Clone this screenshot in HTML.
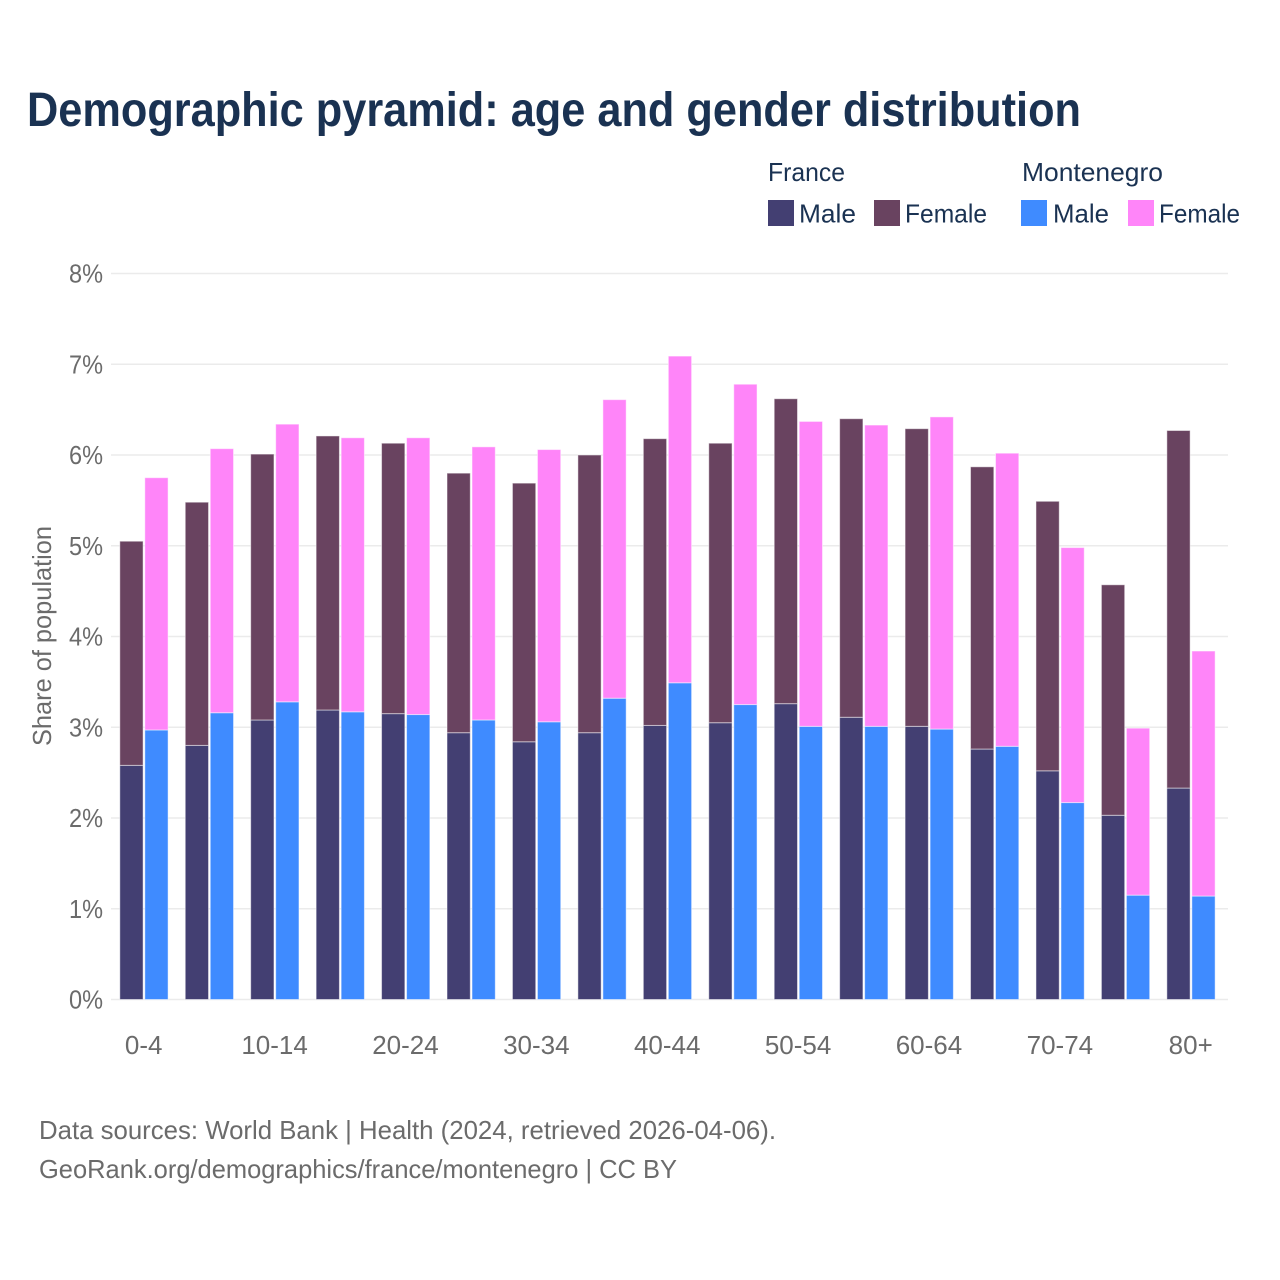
<!DOCTYPE html>
<html lang="en">
<head>
<meta charset="utf-8">
<title>Demographic pyramid: age and gender distribution</title>
<style>
html,body{margin:0;padding:0;background:#fff;}
svg{display:block;font-family:"Liberation Sans",sans-serif;}
</style>
</head>
<body>
<svg id="chart" xmlns="http://www.w3.org/2000/svg" width="1280" height="1280" viewBox="0 0 1280 1280">
<rect x="0" y="0" width="1280" height="1280" fill="#ffffff"/>
<text x="27" y="126" font-size="48" font-weight="700" fill="#1a3252" textLength="1054" lengthAdjust="spacingAndGlyphs">Demographic pyramid: age and gender distribution</text>
<g font-size="26" fill="#1a3252">
<text x="768" y="181" textLength="77" lengthAdjust="spacingAndGlyphs">France</text>
<text x="1022" y="181" textLength="141" lengthAdjust="spacingAndGlyphs">Montenegro</text>
<rect x="768" y="200" width="26" height="26" fill="#433f72"/>
<text x="799" y="222.5" textLength="57" lengthAdjust="spacingAndGlyphs">Male</text>
<rect x="874" y="200" width="26" height="26" fill="#694360"/>
<text x="905" y="222.5" textLength="82" lengthAdjust="spacingAndGlyphs">Female</text>
<rect x="1021" y="200" width="26" height="26" fill="#3f8bff"/>
<text x="1053" y="222.5" textLength="56" lengthAdjust="spacingAndGlyphs">Male</text>
<rect x="1128" y="200" width="26" height="26" fill="#ff85f9"/>
<text x="1159" y="222.5" textLength="81" lengthAdjust="spacingAndGlyphs">Female</text>
</g>
<g id="grid"></g>
<g id="bars"></g>
<g id="yticks"></g>
<g id="xticks"></g>
<text transform="translate(51 746) rotate(-90)" x="0" y="0" font-size="26" fill="#6b6b6b" textLength="220" lengthAdjust="spacingAndGlyphs">Share of population</text>
<text x="39" y="1139" font-size="26" fill="#6b6b6b" textLength="737" lengthAdjust="spacingAndGlyphs">Data sources: World Bank | Health (2024, retrieved 2026-04-06).</text>
<text x="39" y="1178" font-size="26" fill="#6b6b6b" textLength="638" lengthAdjust="spacingAndGlyphs">GeoRank.org/demographics/france/montenegro | CC BY</text>
</svg>
<script>
const categories = ["0-4","5-9","10-14","15-19","20-24","25-29","30-34","35-39","40-44","45-49","50-54","55-59","60-64","65-69","70-74","75-79","80+"];
const franceMale = [2.58,2.80,3.08,3.19,3.15,2.94,2.84,2.94,3.02,3.05,3.26,3.11,3.01,2.76,2.52,2.03,2.33];
const franceFemale = [2.47,2.68,2.93,3.02,2.98,2.86,2.85,3.06,3.16,3.08,3.36,3.29,3.28,3.11,2.97,2.54,3.94];
const montenegroMale = [2.97,3.16,3.28,3.17,3.14,3.08,3.06,3.32,3.49,3.25,3.01,3.01,2.98,2.79,2.17,1.15,1.14];
const montenegroFemale = [2.78,2.91,3.06,3.02,3.05,3.01,3.00,3.29,3.60,3.53,3.36,3.32,3.44,3.23,2.81,1.84,2.70];
const yTicks = [0,1,2,3,4,5,6,7,8];

const NS = "http://www.w3.org/2000/svg";
const plotLeft = 111, plotRight = 1228, plotBottom = 999.5, plotTop = 273.5;
const yMax = 8;
const firstCenter = 143.7, bandStep = 65.44;
const yScale = v => plotBottom - (v / yMax) * (plotBottom - plotTop);
const xScale = i => firstCenter + i * bandStep;

const gridG = document.getElementById("grid");
const barsG = document.getElementById("bars");
const yG = document.getElementById("yticks");
const xG = document.getElementById("xticks");

yTicks.forEach(t => {
  const line = document.createElementNS(NS, "line");
  
  
  line.setAttribute("x1", plotLeft);
  line.setAttribute("x2", plotRight);
  line.setAttribute("y1", yScale(t));
  line.setAttribute("y2", yScale(t));
  line.setAttribute("stroke", "#ebebeb");
  line.setAttribute("stroke-width", "1.5");
  gridG.appendChild(line);

  const label = document.createElementNS(NS, "text");
  
  
  label.setAttribute("x", 69);
  label.setAttribute("y", yScale(t) + 9);
  label.setAttribute("textLength", "34");
  label.setAttribute("lengthAdjust", "spacingAndGlyphs");
  label.setAttribute("font-size", "26");
  label.setAttribute("fill", "#6b6b6b");
  label.textContent = t + "%";
  yG.appendChild(label);
});

function addBar(x, base, value, color, name) {
  const r = document.createElementNS(NS, "rect");
  
  
  const top = yScale(base + value);
  r.setAttribute("x", x);
  r.setAttribute("y", top);
  r.setAttribute("width", 23.3);
  r.setAttribute("height", yScale(base) - top);
  r.setAttribute("fill", color);
  r.setAttribute("stroke", "#ffffff");
  r.setAttribute("stroke-opacity", "0.5");
  r.setAttribute("stroke-width", "1");
  barsG.appendChild(r);
}

categories.forEach((c, i) => {
  const cx = xScale(i);
  addBar(cx - 23.9, 0, franceMale[i], "#433f72", "bar-france-male");
  addBar(cx - 23.9, franceMale[i], franceFemale[i], "#694360", "bar-france-female");
  addBar(cx + 1.1, 0, montenegroMale[i], "#3f8bff", "bar-montenegro-male");
  addBar(cx + 1.1, montenegroMale[i], montenegroFemale[i], "#ff85f9", "bar-montenegro-female");

  if (i % 2 === 0) {
    const label = document.createElementNS(NS, "text");
    
    
    label.setAttribute("x", cx);
    label.setAttribute("y", 1054);
    label.setAttribute("text-anchor", "middle");
    label.setAttribute("font-size", "26");
    label.setAttribute("fill", "#6b6b6b");
    label.textContent = c;
    xG.appendChild(label);
  }
});
</script>
</body>
</html>
